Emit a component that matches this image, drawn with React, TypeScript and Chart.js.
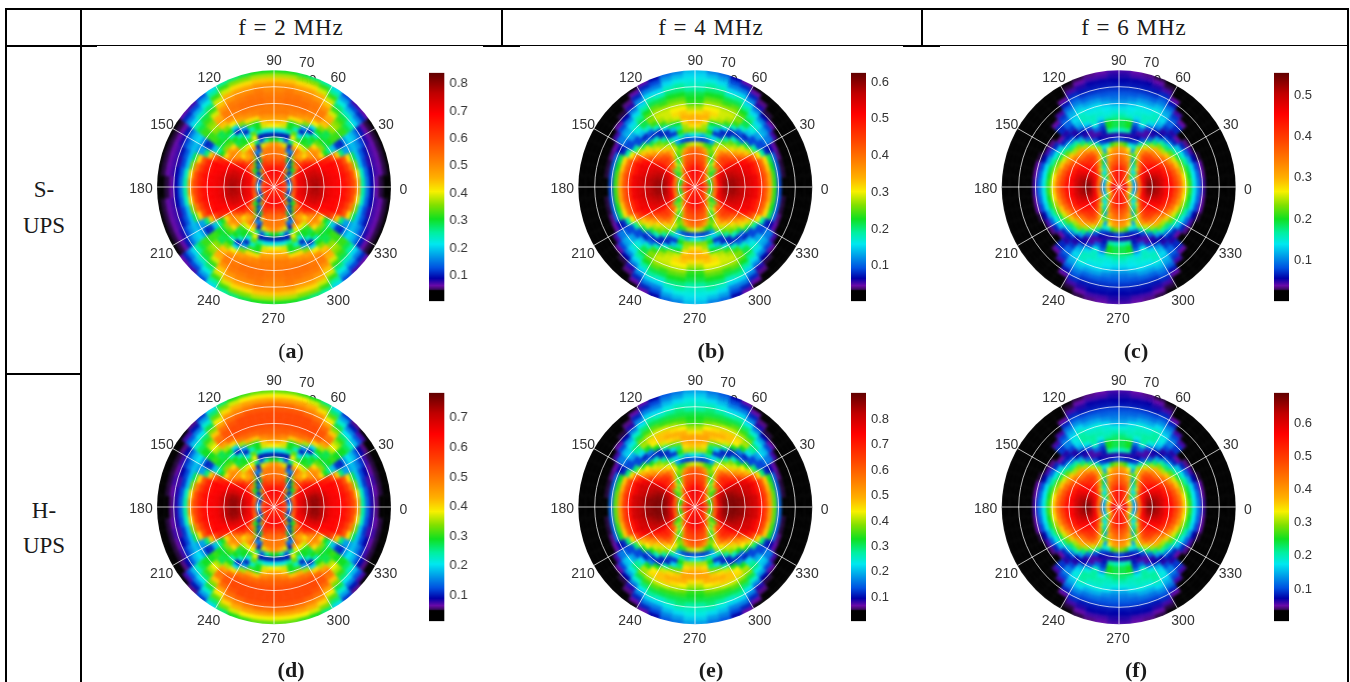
import React, { useEffect, useRef } from "react";
import { Chart, registerables } from "chart.js";

Chart.register(...registerables);

const columnTitles = ["f = 2 MHz", "f = 4 MHz", "f = 6 MHz"];
const angleLabels = ["0", "30", "60", "90", "120", "150", "180", "210", "240", "270", "300", "330"];
const radialLabels = ["70", "60"];
const gridAngles = ["0", "30", "60", "90", "120", "150", "180", "210", "240", "270", "300", "330"];
const gridZeros = [0, 0, 0, 0, 0, 0, 0, 0, 0, 0, 0, 0];

// colour scale stops: position along the colour bar (0-100), colour
const scaleStops: [number, string][] = [
  [0, "#000000"], [4.6, "#000000"], [5.2, "#3a0a60"], [6.8, "#6a0aa8"], [10, "#0000a8"], [14.5, "#0050e0"],
  [19, "#0090e8"], [25, "#00e8f0"], [30, "#00f0a0"], [36, "#10e020"], [42, "#80e000"], [48, "#f8f000"],
  [54, "#ffb000"], [61, "#ff8000"], [71, "#ff4000"], [82, "#ff0000"], [91, "#c00000"], [100, "#600000"],
];

// Each table: one row per 6 degree sector (3, 9 ... 87 degrees), one column per ring from the centre out.
// Cells are the position on the colour bar (0-100).
const levelsA = [
  [82,82,76,24,72,84,86,90,92,93,90,86,84,83,82,80,76,70,56,30,17,10,7,5,4,4],
  [82,82,74,20,70,84,86,90,92,92,90,86,84,83,82,80,76,68,50,28,16,10,8,7,5,4],
  [82,80,70,16,68,84,86,88,90,90,88,85,83,82,80,78,72,62,42,22,14,9,8,7,5,4],
  [80,78,68,14,66,82,84,86,88,88,85,82,82,82,80,76,68,50,34,22,15,11,8,7,5,4],
  [78,76,66,12,62,80,82,84,84,84,82,80,78,76,68,52,32,20,20,22,19,14,9,7,5,4],
  [76,76,70,14,30,62,78,80,80,76,68,60,50,36,30,22,13,12,20,24,22,17,11,7,5,4],
  [76,76,76,34,12,36,62,74,74,66,58,60,56,42,34,36,38,38,38,38,34,30,24,18,12,7],
  [74,76,76,68,11,36,64,70,58,50,56,58,50,40,36,34,34,42,44,42,38,34,28,21,14,8],
  [74,76,78,74,44,11,38,66,56,56,46,38,34,36,28,36,42,52,56,54,46,38,32,26,20,14],
  [74,76,78,78,70,22,11,42,62,62,48,36,36,28,11,24,48,58,62,62,58,52,46,38,30,24],
  [72,76,78,78,78,72,34,11,18,56,48,38,26,12,20,42,56,60,62,63,62,58,54,46,38,30],
  [72,76,80,80,78,74,70,50,16,11,32,48,40,28,38,50,58,62,64,64,62,60,56,50,42,32],
  [72,76,80,82,78,72,66,64,60,46,16,11,30,36,36,50,60,62,64,64,63,60,56,50,42,34],
  [72,76,80,82,78,70,64,62,62,54,30,11,26,46,52,58,62,62,64,64,63,62,58,52,44,36],
  [78,82,84,84,78,72,66,64,62,58,36,11,26,48,54,58,62,62,63,63,62,60,58,52,44,36],
];

const levelsB = [
  [84,84,72,40,66,84,92,95,94,92,90,88,86,84,76,68,56,38,14,4,4,4,4,4,4,4],
  [84,84,70,38,66,84,92,94,94,92,90,88,86,84,76,68,56,38,15,5,4,4,4,4,4,4],
  [82,82,68,34,64,84,90,92,92,90,88,86,84,80,74,66,52,36,16,5,4,4,4,4,4,4],
  [80,80,64,34,62,82,88,90,90,88,86,84,84,80,74,64,50,34,16,6,4,4,4,4,4,4],
  [78,78,62,36,58,80,84,86,86,86,84,82,80,74,64,48,30,12,10,7,4,4,4,4,4,4],
  [76,76,66,46,34,60,76,80,80,78,74,68,60,52,44,30,14,14,18,17,8,4,4,4,4,4],
  [76,76,72,54,36,34,62,72,74,72,66,58,52,46,34,14,14,20,22,20,14,7,4,4,4,4],
  [74,76,76,62,38,44,66,70,72,68,60,50,44,34,16,12,22,26,28,24,18,10,5,4,4,4],
  [72,74,76,70,52,34,48,62,66,62,52,44,40,28,12,16,28,34,34,30,24,18,9,6,4,4],
  [72,74,76,74,66,48,34,42,52,54,46,40,30,12,12,28,38,42,40,36,30,24,18,12,7,4],
  [72,74,76,76,72,60,44,36,40,46,42,30,13,12,26,38,44,46,44,40,34,30,24,18,12,7],
  [74,76,78,78,74,70,64,56,42,36,20,24,13,22,34,44,46,46,44,38,34,28,24,18,14,10],
  [76,78,80,80,76,72,68,64,56,38,14,30,36,30,36,46,50,48,44,40,36,32,28,24,20,16],
  [78,80,82,82,78,72,68,66,62,44,13,22,42,44,50,54,52,48,44,40,36,32,30,26,22,18],
  [82,84,84,84,80,74,70,68,64,46,14,26,42,50,54,54,50,44,38,36,34,30,28,26,24,22],
];

const levelsC = [
  [88,86,56,20,66,86,96,96,92,88,82,80,72,64,50,38,26,17,8,4,4,4,4,4,4,4],
  [88,86,54,20,66,86,94,95,92,88,82,78,70,62,48,36,25,16,7,4,4,4,4,4,4,4],
  [86,84,52,20,64,84,92,92,90,86,80,76,68,58,44,34,24,14,7,4,4,4,4,4,4,4],
  [84,82,50,20,62,82,88,88,86,84,78,72,64,52,40,30,20,10,5,4,4,4,4,4,4,4],
  [82,80,50,22,58,78,84,84,82,80,74,68,58,46,34,26,16,8,4,4,4,4,4,4,4,4],
  [80,80,50,26,44,72,80,82,80,76,70,62,52,40,30,22,12,6,4,4,4,4,4,4,4,4],
  [78,78,56,34,28,62,76,78,76,72,64,56,44,32,22,12,7,4,4,4,4,4,4,4,4,4],
  [76,76,62,40,24,46,68,74,74,70,62,54,42,30,17,11,9,12,12,7,4,4,4,4,4,4],
  [74,76,70,54,24,30,54,66,70,66,56,44,32,20,10,9,13,16,16,13,8,4,4,4,4,4],
  [72,74,72,66,46,22,36,52,60,58,46,32,16,9,10,18,22,24,22,20,16,11,7,4,4,4],
  [72,74,74,70,62,44,20,34,46,44,30,14,8,8,14,24,28,28,26,22,18,15,12,8,5,4],
  [74,76,76,74,70,64,54,42,20,28,14,10,8,16,26,28,28,26,24,20,16,13,11,9,7,5],
  [76,78,78,76,72,66,60,56,48,26,12,9,11,13,17,24,27,26,24,20,16,13,11,10,8,6],
  [78,80,80,78,74,68,64,60,56,38,12,9,30,36,36,28,26,25,22,18,15,13,11,10,8,7],
  [84,84,84,82,76,70,66,62,58,42,14,9,28,34,34,30,27,24,20,17,15,13,11,10,9,8],
];

const levelsD = [
  [84,84,76,24,72,84,88,92,95,95,92,88,84,83,82,80,76,70,56,30,16,9,6,4,4,4],
  [84,82,74,20,70,84,88,92,95,95,92,88,84,83,82,80,76,68,50,28,15,9,7,5,4,4],
  [82,80,70,16,68,84,86,90,93,93,90,86,83,82,80,78,72,62,42,22,13,8,8,5,4,4],
  [80,78,68,14,66,82,84,86,88,88,86,82,82,82,80,76,68,50,34,22,14,10,7,5,4,4],
  [78,76,66,12,62,80,82,84,84,84,82,80,78,76,68,52,32,20,20,22,18,13,8,5,4,4],
  [76,76,70,14,30,62,78,80,80,76,68,60,50,36,30,22,13,12,20,25,22,16,10,6,4,4],
  [76,76,76,34,12,36,62,74,74,66,58,60,56,42,34,36,38,36,36,36,33,28,22,15,8,4],
  [74,76,76,68,11,36,64,70,58,50,56,58,50,40,36,34,34,44,48,44,38,32,25,18,11,6],
  [74,76,78,74,44,11,38,66,56,56,46,38,34,36,28,36,44,56,64,62,52,42,34,27,20,13],
  [74,76,78,78,70,22,11,42,62,62,48,36,36,28,11,24,50,64,68,68,64,56,48,40,32,24],
  [72,76,78,78,78,72,34,11,18,56,48,38,26,12,20,44,62,68,70,70,68,64,58,50,42,32],
  [72,76,80,80,78,74,70,50,16,11,32,48,40,28,38,54,64,68,70,70,70,66,60,54,46,36],
  [72,76,80,82,78,72,66,64,60,46,16,11,30,36,36,52,64,68,70,70,70,68,62,56,48,38],
  [72,76,80,82,78,70,64,62,62,54,30,11,26,46,52,60,66,68,70,70,70,68,64,56,48,40],
  [78,82,84,84,78,72,66,64,62,58,36,11,26,48,56,62,66,68,70,70,70,68,64,56,48,40],
];

const levelsE = [
  [86,86,74,42,70,88,95,97,97,96,95,92,90,88,80,72,58,40,16,4,4,4,4,4,4,4],
  [86,86,72,40,70,88,95,97,97,96,95,92,90,88,80,72,58,40,16,5,4,4,4,4,4,4],
  [84,84,70,36,68,88,94,96,96,94,92,90,88,84,78,70,54,38,16,5,4,4,4,4,4,4],
  [82,82,66,36,66,86,92,94,94,92,90,88,88,84,78,68,52,36,16,6,4,4,4,4,4,4],
  [80,80,64,38,62,84,88,90,90,90,88,86,84,78,68,50,32,12,10,7,4,4,4,4,4,4],
  [78,78,68,48,36,64,80,84,84,82,78,72,62,54,46,32,14,14,18,17,8,4,4,4,4,4],
  [78,78,74,56,38,36,66,76,78,76,70,60,54,48,36,14,14,20,24,22,14,7,4,4,4,4],
  [76,78,78,64,40,46,68,74,76,72,62,52,46,36,16,12,24,30,32,26,20,10,5,4,4,4],
  [74,76,78,72,54,34,50,64,70,66,54,46,42,28,12,18,36,44,42,34,27,18,9,6,4,4],
  [74,76,78,76,68,48,34,44,56,58,48,42,30,12,12,36,48,50,44,38,32,25,18,12,7,4],
  [74,76,78,78,74,60,44,36,42,48,44,30,13,12,30,46,52,52,46,40,34,30,24,18,12,7],
  [76,78,80,80,76,72,66,58,42,36,20,24,13,24,40,50,54,52,46,38,34,28,24,18,14,10],
  [78,80,82,82,78,74,70,66,58,38,14,30,36,32,42,52,54,50,44,38,34,30,26,22,18,15],
  [80,82,84,84,80,74,70,68,64,44,13,22,44,50,54,56,54,48,42,38,34,32,28,24,20,17],
  [84,86,86,86,82,76,72,70,66,46,14,26,44,52,56,56,50,44,38,36,34,30,28,26,23,20],
];

const levelsF = [
  [88,86,56,20,66,86,96,97,92,88,82,80,72,64,50,38,26,17,8,4,4,4,4,4,4,4],
  [88,86,54,20,66,86,94,95,92,88,82,78,70,62,48,36,25,16,7,4,4,4,4,4,4,4],
  [86,84,52,20,64,84,92,92,90,86,80,76,68,58,44,34,24,14,7,4,4,4,4,4,4,4],
  [84,82,50,20,62,82,88,88,86,84,78,72,64,52,40,30,20,10,5,4,4,4,4,4,4,4],
  [82,80,50,22,58,78,84,84,82,80,74,68,58,46,34,26,16,8,4,4,4,4,4,4,4,4],
  [80,80,50,26,44,72,80,82,80,76,70,62,52,40,30,22,12,6,4,4,4,4,4,4,4,4],
  [78,78,56,34,28,62,76,78,76,72,64,56,44,32,22,12,7,4,4,4,4,4,4,4,4,4],
  [76,76,62,40,24,46,68,74,74,70,62,54,42,30,17,11,9,13,13,8,4,4,4,4,4,4],
  [74,76,70,54,24,30,54,66,70,66,56,44,32,20,10,9,14,18,18,14,8,4,4,4,4,4],
  [72,74,72,66,46,22,36,52,60,58,46,32,16,9,10,20,24,26,24,21,17,12,7,4,4,4],
  [72,74,74,70,62,44,20,34,46,44,30,14,8,8,15,26,30,30,28,24,19,15,12,8,5,4],
  [74,76,76,74,70,64,54,42,20,28,14,10,8,16,28,30,30,28,26,21,17,14,11,9,7,5],
  [76,78,78,76,72,66,60,56,48,26,12,9,11,13,18,26,29,28,26,21,17,14,11,10,8,6],
  [78,80,80,78,74,68,64,60,56,38,12,9,30,36,36,30,28,27,24,19,16,14,11,10,8,7],
  [84,84,84,82,76,70,66,62,58,42,14,9,28,34,34,32,29,26,21,18,16,14,11,10,9,8],
];

const ticksA = [0.1, 0.2, 0.3, 0.4, 0.5, 0.6, 0.7, 0.8];
const ticksB = [0.1, 0.2, 0.3, 0.4, 0.5, 0.6];
const ticksC = [0.1, 0.2, 0.3, 0.4, 0.5];
const ticksD = [0.1, 0.2, 0.3, 0.4, 0.5, 0.6, 0.7];
const ticksE = [0.1, 0.2, 0.3, 0.4, 0.5, 0.6, 0.7, 0.8];
const ticksF = [0.1, 0.2, 0.3, 0.4, 0.5, 0.6];

const ranges: [number, number][] = [[0.006, 0.84], [0.004, 0.625], [0.002, 0.554], [0.013, 0.784], [0.006, 0.904], [0.003, 0.692]];
const captionLetters = ["a", "b", "c", "d", "e", "f"];
const rowNames = ["S-", "UPS", "H-", "UPS"];

const centersX = [274, 695.3, 1118.7];
const centersY = [187.3, 507.3];
const barLefts = [429.3, 850.7, 1273.7];

const parse = (hex: string) => [1, 3, 5].map((i) => parseInt(hex.slice(i, i + 2), 16));
function levelColor(level: number) {
  for (let i = 1; i < scaleStops.length; i++) {
    const [p1, c1] = scaleStops[i];
    if (level <= p1) {
      const [p0, c0] = scaleStops[i - 1];
      const t = (level - p0) / (p1 - p0);
      const a = parse(c0), b = parse(c1);
      return `rgb(${a.map((v, k) => Math.round(v + (b[k] - v) * t)).join(",")})`;
    }
  }
  return scaleStops[scaleStops.length - 1][1];
}

function Polar({ levels, left, top }: { levels: number[][]; left: number; top: number }) {
  const heatRef = useRef<HTMLCanvasElement>(null);
  const gridRef = useRef<HTMLCanvasElement>(null);
  useEffect(() => {
    const rows = levels.length;
    const order: number[] = [];
    for (let q = 0; q < 4; q++) for (let s = 0; s < rows; s++) order.push(q % 2 === 0 ? s : rows - 1 - s);
    const rings = levels[0].length;
    const datasets = [];
    for (let ring = rings - 1; ring >= 0; ring--) {
      const colors = order.map((s) => levelColor(levels[s][ring]));
      datasets.push({ data: order.map(() => 1), backgroundColor: colors, borderColor: colors, borderWidth: 0.5 });
    }
    const heat = new Chart(heatRef.current!, {
      type: "doughnut",
      data: { labels: order.map((_, i) => String(i)), datasets },
      options: {
        responsive: false,
        animation: false,
        cutout: 0,
        rotation: 90,
        events: [],
        layout: { padding: { left: 41, right: 41, top: 26, bottom: 26 } },
        plugins: { legend: { display: false }, tooltip: { enabled: false } },
      },
    } as any);
    const grid = new Chart(gridRef.current!, {
      type: "radar",
      data: {
        labels: gridAngles,
        datasets: [{ data: gridZeros, pointRadius: 0, borderWidth: 0, backgroundColor: "transparent" }],
      },
      options: {
        responsive: false,
        animation: false,
        events: [],
        layout: { padding: { left: 43, right: 43, top: 28, bottom: 28 } },
        plugins: { legend: { display: false }, tooltip: { enabled: false } },
        scales: {
          r: {
            min: 0,
            max: 70,
            ticks: { display: false, stepSize: 10 },
            pointLabels: { display: false },
            grid: {
              circular: true,
              lineWidth: 1,
              color: (c: any) => (c.index === 7 ? "rgba(255,255,255,0)" : "rgba(255,255,255,0.72)"),
            },
            angleLines: { color: "rgba(255,255,255,0.72)", lineWidth: 1 },
          },
        },
      },
    } as any);
    return () => {
      heat.destroy();
      grid.destroy();
    };
  }, [levels]);
  return (
    <>
      <div
        style={{
          position: "absolute",
          left,
          top,
          width: 320,
          height: 290,
          clipPath: "circle(117px at 160px 145px)",
        }}
      >
        <canvas ref={heatRef} width={320} height={290} style={{ display: "block", width: 320, height: 290, filter: "blur(1.4px)" }} />
      </div>
      <canvas
        ref={gridRef}
        width={320}
        height={290}
        style={{ position: "absolute", left, top, width: 320, height: 290, filter: "blur(0.35px)" }}
      />
    </>
  );
}

function ColorBar({ ticks, range, left, top }: { ticks: number[]; range: [number, number]; left: number; top: number }) {
  const ref = useRef<HTMLCanvasElement>(null);
  useEffect(() => {
    const chart = new Chart(ref.current!, {
      type: "bar",
      data: {
        labels: [""],
        datasets: [
          {
            data: [range],
            barPercentage: 1,
            categoryPercentage: 1,
            borderSkipped: false,
            backgroundColor: (ctx: any) => {
              const area = ctx.chart.chartArea;
              if (!area) return "#000";
              const g = ctx.chart.ctx.createLinearGradient(0, area.bottom, 0, area.top);
              scaleStops.forEach(([p, col]) => g.addColorStop(p / 100, col));
              return g;
            },
          },
        ],
      },
      options: {
        responsive: false,
        animation: false,
        events: [],
        layout: { padding: { top: 11.7, bottom: 12.3, left: 0, right: 0 } },
        plugins: { legend: { display: false }, tooltip: { enabled: false } },
        scales: {
          x: { display: false },
          y: {
            position: "right",
            min: range[0],
            max: range[1],
            afterBuildTicks: (s: any) => {
              s.ticks = ticks.map((value) => ({ value }));
            },
            afterFit: (s: any) => {
              s.width = 34;
            },
            grid: { display: false, drawTicks: false },
            border: { display: false },
            ticks: {
              padding: 5,
              color: "#333333",
              font: { family: "Liberation Sans", size: 13 },
              callback: (v: any) => Number(v).toFixed(1),
            },
          },
        },
      },
    } as any);
    return () => chart.destroy();
  }, [ticks, range]);
  return (
    <canvas
      ref={ref}
      width={49.4}
      height={254}
      style={{ position: "absolute", left, top, width: 49.4, height: 254, filter: "blur(0.4px)" }}
    />
  );
}

// label centre offsets from the polar centre, same order as angleLabels
const labelDx = [129.3, 112, 64.3, 0, -64.7, -112, -133, -112.3, -65.3, -0.7, 64.3, 111.7];
const labelDy = [1.7, -63, -110, -127.3, -110, -63, 1, 66, 113, 131, 113, 66];
const radialDx = [32.7, 34.7];
const radialDy = [-125.7, -107.5];

const text = (
  s: React.ReactNode,
  x: number,
  y: number,
  style: React.CSSProperties,
  key?: string
) => (
  <div
    key={key}
    style={{
      position: "absolute",
      left: x - 100,
      top: y - 20,
      width: 200,
      height: 40,
      lineHeight: "40px",
      textAlign: "center",
      whiteSpace: "nowrap",
      ...style,
    }}
  >
    {s}
  </div>
);

const line = (x: number, y: number, w: number, h: number) => (
  <div key={`${x}-${y}-${w}-${h}`} style={{ position: "absolute", left: x, top: y, width: w, height: h, background: "#000" }} />
);

export default function App() {
  const tables = [levelsA, levelsB, levelsC, levelsD, levelsE, levelsF];
  const tickSets = [ticksA, ticksB, ticksC, ticksD, ticksE, ticksF];
  const serif: React.CSSProperties = { fontFamily: "Liberation Serif", fontSize: 23, color: "#1a1a1a" };
  const sans: React.CSSProperties = { fontFamily: "Liberation Sans", fontSize: 14, color: "#333", filter: "blur(0.3px)" };
  const captionCx = [291, 711, 1136];
  const captionCy = [351, 670];
  return (
    <div style={{ position: "absolute", left: 0, top: 0, width: 1350, height: 682, overflow: "hidden", background: "#fff" }}>
      {line(6, 8, 1343, 2)}
      {line(6, 45, 1343, 1)}
      {line(6, 44.5, 91, 2)}
      {line(483, 44.5, 37, 2)}
      {line(903, 44.5, 37, 2)}
      {line(6, 373, 76, 2)}
      {line(5, 8, 2, 674)}
      {line(80, 8, 2, 674)}
      {line(501, 8, 2, 38)}
      {line(921, 8, 2, 38)}
      {line(1347, 8, 2, 674)}
      {columnTitles.map((t, i) => text(t, [291, 711, 1134][i], 28, { ...serif, letterSpacing: 1 }, t))}
      {text(rowNames[0], 44, 190, serif, "r0")}
      {text(rowNames[1], 44, 226, serif, "r1")}
      {text(rowNames[2], 44, 511, serif, "r2")}
      {text(rowNames[3], 44, 546, serif, "r3")}
      {tables.map((levels, i) => {
        const col = i % 3;
        const row = Math.floor(i / 3);
        const cx = centersX[col];
        const cy = centersY[row];
        return (
          <React.Fragment key={i}>
            {text(radialLabels[1], cx + radialDx[1], cy + radialDy[1], sans, "hidden")}
            <Polar levels={levels} left={cx - 160} top={cy - 145} />
            {angleLabels.map((l, k) => text(l, cx + labelDx[k], cy + labelDy[k], sans, l))}
            {text(radialLabels[0], cx + radialDx[0], cy + radialDy[0], sans, "seventy")}
            <ColorBar ticks={tickSets[i]} range={ranges[i]} left={barLefts[col]} top={cy - 127.3} />
            {text(
              i === 0 ? (
                <span style={{ fontWeight: 400 }}>
                  (<b>a</b>)
                </span>
              ) : (
                <b>({captionLetters[i]})</b>
              ),
              captionCx[col],
              captionCy[row],
              { ...serif, fontSize: 22 },
              "cap"
            )}
          </React.Fragment>
        );
      })}
    </div>
  );
}
